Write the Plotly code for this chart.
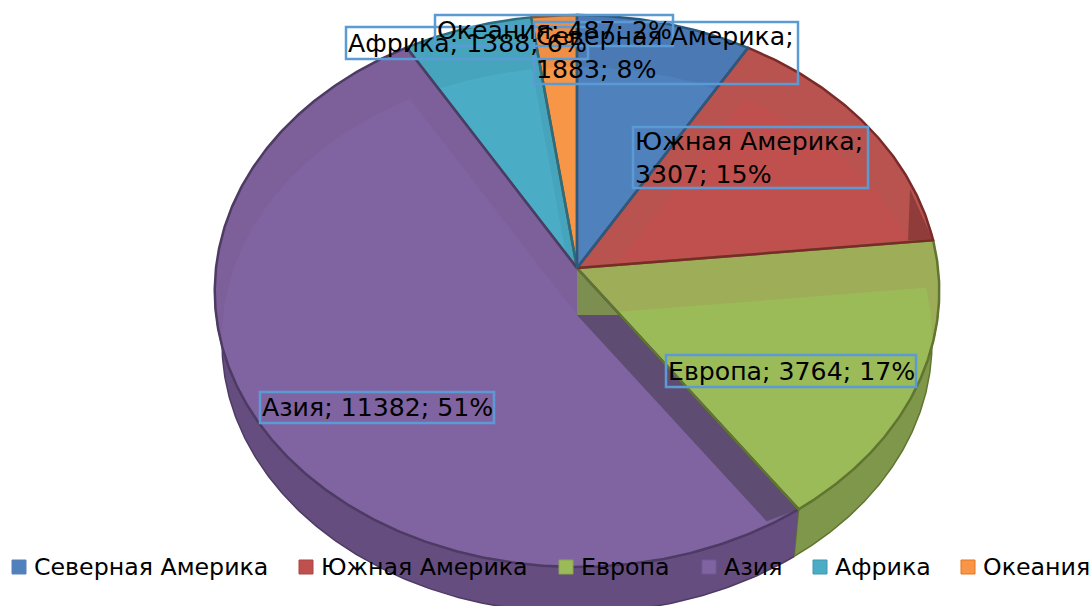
import numpy as np
import plotly.graph_objects as go

categories = ["Северная Америка", "Южная Америка", "Европа", "Азия", "Африка", "Океания"]
values = [1883, 3307, 3764, 11382, 1388, 487]
base_colors = ["#4F81BD", "#C0504D", "#9BBB59", "#8064A2", "#4BACC6", "#F79646"]
bevel_colors = ["#4A79B4", "#B95350", "#9EAE58", "#7D5F9A", "#46A4BC", "#EE8F45"]
side_colors = ["#3B6088", "#8C3A38", "#7F974A", "#654D80", "#37808F", "#B56F33"]
edge_colors = ["#2A5A80", "#7A2A28", "#60752F", "#4D3B63", "#2B6C7E", "#8A5528"]
legend_edges = ["#5B82B5", "#A94643", "#8AA64F", "#705894", "#3E97AE", "#E8751A"]
label_boxes = [(534, 22, 798, 84), (633, 127, 868, 188), (666, 355, 916, 387),
               (260, 392, 494, 423), (346, 27, 588, 59), (435, 15, 673, 46)]
label_breaks = [True, True, False, False, False, False]
legend_x = [12, 299, 559, 702, 813, 961]

W, H = 1092, 606
CX, CY, RX, RY, K = 577.0, 268.0, 361.0, 274.0, 0.0834
INNER_DY = 47.0
DEPTH_DY, DEPTH_S = 52.0, 0.98


def proj(theta, scale=1.0, dy=0.0):
    t = np.radians(theta)
    X, Y = np.sin(t), np.cos(t)
    d = 1 + K * Y
    return CX + scale * RX * X / d, CY + dy - scale * RY * Y / d


fr_t = np.linspace(95, 265, 300)
fr_x, fr_y = proj(fr_t)
fr_order = np.argsort(fr_x)
fr_x, fr_y = fr_x[fr_order], fr_y[fr_order]


def front_y(x):
    return np.interp(x, fr_x, fr_y)


def wedge(a0, a1):
    t = np.linspace(a0, a1, max(int(a1 - a0) * 2, 6))
    x, y = proj(t)
    return np.r_[CX, x, CX], np.r_[CY, y, CY]


def inner_wedge(a0, a1):
    t = np.linspace(a0, a1, max(int(a1 - a0) * 2, 6))
    x, y = proj(t, 0.98)
    y = y + INNER_DY
    s = np.linspace(0, 1, 40)
    ax, ay = CX, CY + INNER_DY
    xs = np.r_[ax + s * (x[0] - ax), x, ax + s[::-1] * (x[-1] - ax)]
    ys = np.r_[ay + s * (y[0] - ay), y, ay + s[::-1] * (y[-1] - ay)]
    return xs, np.minimum(ys, front_y(xs) - 1)


def poly(x, y, fill, line=None, width=0):
    return go.Scatter(x=list(x), y=list(y), mode="lines", fill="toself", fillcolor=fill,
                      line=dict(color=line or fill, width=width), hoverinfo="skip", showlegend=False)


total = sum(values)
angles = np.r_[0, np.cumsum(values)] / total * 360
fig = go.Figure()

# side walls, visible along the front
for i in range(6):
    a0, a1 = max(angles[i], 92.0), min(angles[i + 1], 266.0)
    if a1 <= a0:
        continue
    t = np.linspace(a0, a1, 200)
    x0, y0 = proj(t)
    x1, y1 = proj(t, DEPTH_S, DEPTH_DY)
    fig.add_trace(poly(np.r_[x0, x1[::-1]], np.r_[y0, y1[::-1]], side_colors[i], edge_colors[i], 1.5))

# top surface: outer bevel first, recessed face afterwards, back to front
for i in [5, 4, 0, 1, 2, 3]:
    a0, a1 = angles[i], angles[i + 1]
    fig.add_trace(poly(*wedge(a0, a1), bevel_colors[i]))
    fig.add_trace(poly(*inner_wedge(a0, a1), base_colors[i]))

# recess walls around the Europe / Asia seam and at the South America corner
ex, ey = proj(angles[3])
frac = INNER_DY / (ey - CY)
mx = CX + frac * (ex - CX)
my = CY + INNER_DY
fig.add_trace(poly([CX, CX, mx, CX], [CY, my, my, CY], "#7C8F50"))
ty = front_y(ex - 32) - 5
fig.add_trace(poly([CX, mx, ex, ex - 32, CX], [my, my, ey, ty, my], "#5F4C72"))
sx, sy = proj(angles[2])
fig.add_trace(poly([sx, sx - 25, sx - 23, sx], [sy, sy, sy - 51, sy], "#8F3C3A"))

# outlines: each slice's closing edge stays on top of the next slice's opening edge
for i in range(5, -1, -1):
    a0, a1 = angles[i], angles[i + 1]
    wx, wy = wedge(a0, a1)
    fig.add_trace(go.Scatter(x=list(wx), y=list(wy), mode="lines",
                             line=dict(color=edge_colors[i], width=2.5), hoverinfo="skip", showlegend=False))

# legend entries
for i, c in enumerate(categories):
    fig.add_trace(go.Scatter(x=[legend_x[i] + 7], y=[567], mode="markers", hoverinfo="skip", showlegend=False,
                             marker=dict(symbol="square", size=14, color=base_colors[i],
                                         line=dict(color=legend_edges[i], width=1))))
    fig.add_annotation(x=legend_x[i] + 20, y=567, text=c, showarrow=False, xanchor="left", yanchor="middle",
                       font=dict(family="DejaVu Sans", size=23.7, color="#000000"))

# data labels
for i, c in enumerate(categories):
    pct = round(values[i] / total * 100)
    sep = "<br>" if label_breaks[i] else " "
    x0, y0, x1, y1 = label_boxes[i]
    fig.add_shape(type="rect", x0=x0, y0=y0, x1=x1, y1=y1, line=dict(color="#5B9BD5", width=2.5),
                  fillcolor="rgba(0,0,0,0)", layer="above")
    fig.add_annotation(x=x0, y=(y0 + y1) / 2, text=f"{c};{sep}{values[i]}; {pct}%", showarrow=False,
                       xanchor="left", yanchor="middle", align="left",
                       font=dict(family="DejaVu Sans", size=25.2, color="#000000"))

fig.update_layout(width=W, height=H, autosize=False, margin=dict(l=0, r=0, t=0, b=0),
                  paper_bgcolor="white", plot_bgcolor="white", showlegend=False,
                  xaxis=dict(range=[0, W], visible=False, fixedrange=True),
                  yaxis=dict(range=[H, 0], visible=False, fixedrange=True))
fig.write_html("out.html", config={"displayModeBar": False},
               post_script="document.body.style.margin='0';document.body.style.overflow='hidden';")
